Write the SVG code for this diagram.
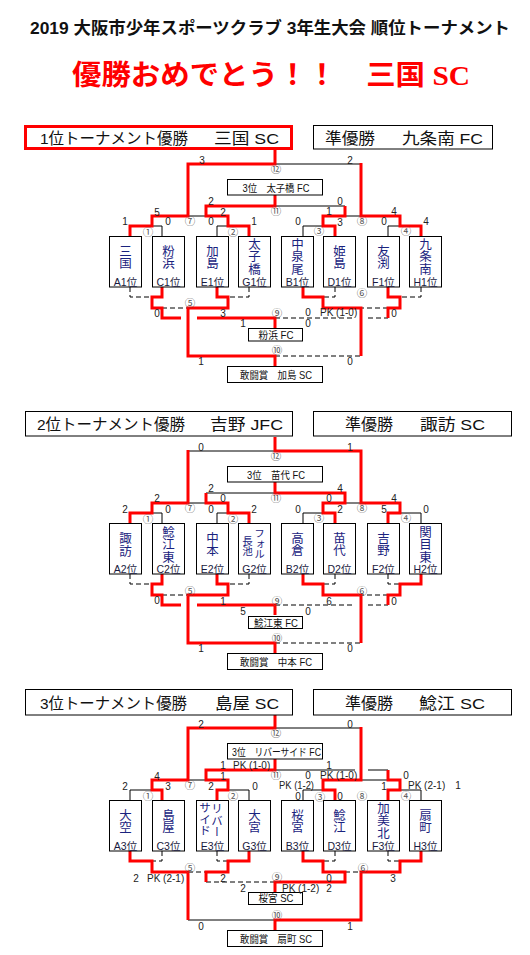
<svg xmlns="http://www.w3.org/2000/svg" width="530" height="955" viewBox="0 0 530 955">
<style>
.r{fill:none;stroke:#ff0000;stroke-width:3;stroke-linejoin:miter}
.k{fill:none;stroke:#000;stroke-width:1}
.d{fill:none;stroke:#000;stroke-width:1;stroke-dasharray:5 3}
.tb{fill:#fff;stroke:#000;stroke-width:1}
.tn{font-family:"Noto Sans CJK JP",sans-serif;font-size:12.5px;fill:#1a237e;writing-mode:vertical-rl}
.tn2{font-family:"Noto Sans CJK JP",sans-serif;font-size:10.5px;fill:#1a237e;writing-mode:vertical-rl}
.tl{font-family:"Liberation Sans","Noto Sans CJK JP",sans-serif;font-size:10.5px;fill:#1a1a40;text-anchor:middle}
.s{font-family:"Liberation Sans",sans-serif;font-size:10px;fill:#222;text-anchor:middle}
.pk{font-family:"Liberation Sans",sans-serif;font-size:10px;fill:#222}
.c{font-family:"Noto Sans CJK JP","DejaVu Sans",sans-serif;font-size:10.5px;fill:#555;text-anchor:middle}
.h{font-family:"Liberation Sans","Noto Sans CJK JP",sans-serif;font-size:15.5px;fill:#111}
.bt{font-family:"Liberation Sans","Noto Sans CJK JP",sans-serif;font-size:10.5px;fill:#111;text-anchor:middle}
</style>
<rect x="0" y="0" width="530" height="955" fill="#fff"/>

<g id="title">
<text x="30" y="34" font-family="'Liberation Sans','Noto Sans CJK JP',sans-serif" font-weight="bold" font-size="16.5" fill="#111" textLength="480" lengthAdjust="spacingAndGlyphs">2019 大阪市少年スポーツクラブ 3年生大会 順位トーナメント</text>
<text x="72" y="85" font-family="'Liberation Serif','Noto Sans CJK JP',serif" font-weight="bold" font-size="28" fill="#ff0000" textLength="398" lengthAdjust="spacingAndGlyphs">優勝おめでとう！！　三国 SC</text>
</g>

<g id="connectors">
<g id="conn-s1">
<path class="k" d="M162,236V226H152 M217,236V226H228 M303,236V226H323 M388,236V226H400 M188,216H206 M345,216H361 M275,164H361 M275,206H345"/>
<path class="d" d="M130,287V297H152 M249,287V297H228 M335,287V297H323 M421,287V297H400 M162,308H188 M388,308H361 M275,318H355 M368,318H388 M275,356H361"/>
<path class="r" d="M130,236V226H152V216H188V164H275V150 M249,236V226H228V216H206V206H275V195 M335,236V226H323V216H345V206 M421,236V226H400V216H361V163 M162,287V297H152V308H162V318H181 M197,318H275V328 M217,287V297H228V308H188V356H275V366 M303,287V297H323V308H361V356 M388,287V297H400V308H388V318"/>
</g>
<g id="conn-s2" transform="translate(0,287)">
<path class="k" d="M162,236V226H152 M217,236V226H228 M303,236V226H323 M421,236V226H400 M188,216H206 M345,216H361 M188,164H275 M206,206H275"/>
<path class="d" d="M130,287V297H152 M249,287V297H228 M335,287V297H323 M388,287V297H400 M162,308H188 M388,308H361 M275,318H355 M368,318H388 M275,356H361"/>
<path class="r" d="M130,236V226H152V216H188V163 M249,236V226H228V216H206V206 M335,236V226H323V216H345V206H275V195 M388,236V226H400V216H361V164H275V150 M162,287V297H152V308H162V318H181 M197,318H275V328 M217,287V297H228V308H188V356H275V366 M303,287V297H323V308H361V356 M421,287V297H400V308H388V318"/>
</g>
<g id="conn-s3" transform="translate(0,564)">
<path class="k" d="M130,236V226H152 M249,236V226H228 M303,236V226H323 M421,236V226H400 M188,216H206 M361,216H388 M275,164H361 M275,206H355 M368,206H388 M188,356H275"/>
<path class="d" d="M162,287V297H152 M217,287V297H228 M335,287V297H323 M388,287V297H400 M188,308H206 M345,308H361 M206,318H275"/>
<path class="r" d="M162,236V226H152V216H188V164H275V150 M217,236V226H228V216H206V206H275V195 M335,236V226H323V216H361V163 M388,236V226H400V216H388V206 M130,287V297H152V308H188V356 M249,287V297H228V308H206V318 M303,287V297H323V308H345V318H275V328 M421,287V297H400V308H361V356H275V366"/>
</g>
</g>

<!-- Section 1 nodes -->
<g id="s1-champion"><rect x="25.5" y="126.5" width="266" height="22" fill="#fff" stroke="#ff0000" stroke-width="3"/><text class="h" y="144"><tspan x="40" textLength="148" lengthAdjust="spacingAndGlyphs">1位トーナメント優勝</tspan><tspan x="214" textLength="65" lengthAdjust="spacingAndGlyphs">三国 SC</tspan></text></g>
<g id="s1-runnerup"><rect class="tb" x="313.5" y="125.5" width="179" height="23.5"/><text class="h" y="144"><tspan x="325" textLength="50" lengthAdjust="spacingAndGlyphs">準優勝</tspan><tspan x="402" textLength="81" lengthAdjust="spacingAndGlyphs">九条南 FC</tspan></text></g>
<g id="s1-3rd"><rect class="tb" x="227.5" y="179.5" width="95" height="15.5"/><text class="bt" x="276" y="191.5" textLength="67" lengthAdjust="spacingAndGlyphs">3位　太子橋 FC</text></g>
<g id="s1-m9"><rect class="tb" x="248.5" y="328.5" width="54" height="12.5"/><text class="bt" x="276" y="338.5" textLength="35" lengthAdjust="spacingAndGlyphs">粉浜 FC</text></g>
<g id="s1-m10"><rect class="tb" x="227.5" y="366.5" width="95" height="16"/><text class="bt" x="276" y="378.5" textLength="72" lengthAdjust="spacingAndGlyphs">敢闘賞　加島 SC</text></g>
<g id="s1-A1"><rect class="tb" x="109.5" y="236.5" width="32" height="50.5"/><text class="tn" x="125.5" y="244.75">三国</text><text class="tl" x="125.5" y="285.5">A1位</text></g>
<g id="s1-C1"><rect class="tb" x="152.5" y="236.5" width="32" height="50.5"/><text class="tn" x="168.5" y="244.75">粉浜</text><text class="tl" x="168.5" y="285.5">C1位</text></g>
<g id="s1-E1"><rect class="tb" x="196.5" y="236.5" width="32" height="50.5"/><text class="tn" x="212.5" y="244.75">加島</text><text class="tl" x="212.5" y="285.5">E1位</text></g>
<g id="s1-G1"><rect class="tb" x="238.5" y="236.5" width="32" height="50.5"/><text class="tn" x="254.5" y="237.75">太子橋</text><text class="tl" x="254.5" y="285.5">G1位</text></g>
<g id="s1-B1"><rect class="tb" x="281.5" y="236.5" width="32" height="50.5"/><text class="tn" x="297.5" y="237.75">中泉尾</text><text class="tl" x="297.5" y="285.5">B1位</text></g>
<g id="s1-D1"><rect class="tb" x="323.5" y="236.5" width="32" height="50.5"/><text class="tn" x="339.5" y="244.75">姫島</text><text class="tl" x="339.5" y="285.5">D1位</text></g>
<g id="s1-F1"><rect class="tb" x="367.5" y="236.5" width="32" height="50.5"/><text class="tn" x="383.5" y="244.75">友渕</text><text class="tl" x="383.5" y="285.5">F1位</text></g>
<g id="s1-H1"><rect class="tb" x="409.5" y="236.5" width="32" height="50.5"/><text class="tn" x="425.5" y="237.75">九条南</text><text class="tl" x="425.5" y="285.5">H1位</text></g>

<!-- Section 2 nodes -->
<g id="s2-winner"><rect class="tb" x="25.5" y="411.5" width="267" height="24.5"/><text class="h" y="430"><tspan x="37" textLength="148" lengthAdjust="spacingAndGlyphs">2位トーナメント優勝</tspan><tspan x="210" textLength="73" lengthAdjust="spacingAndGlyphs">吉野 JFC</tspan></text></g>
<g id="s2-runnerup"><rect class="tb" x="313.5" y="411.5" width="198" height="24.5"/><text class="h" y="430"><tspan x="345" textLength="48" lengthAdjust="spacingAndGlyphs">準優勝</tspan><tspan x="420" textLength="65" lengthAdjust="spacingAndGlyphs">諏訪 SC</tspan></text></g>
<g transform="translate(0,287)">
<g id="s2-3rd"><rect class="tb" x="227.5" y="179.5" width="95" height="15.5"/><text class="bt" x="276" y="191.5" textLength="58" lengthAdjust="spacingAndGlyphs">3位　苗代 FC</text></g>
<g id="s2-m9"><rect class="tb" x="248.5" y="329.5" width="54" height="12"/><text class="bt" x="276" y="339.5" textLength="44" lengthAdjust="spacingAndGlyphs">鯰江東 FC</text></g>
<g id="s2-m10"><rect class="tb" x="227.5" y="366.5" width="95" height="16"/><text class="bt" x="276" y="378.5" textLength="72" lengthAdjust="spacingAndGlyphs">敢闘賞　中本 FC</text></g>
<g id="s2-A2"><rect class="tb" x="109.5" y="236.5" width="32" height="50.5"/><text class="tn" x="125.5" y="245.25">諏訪</text><text class="tl" x="125.5" y="285.5">A2位</text></g>
<g id="s2-C2"><rect class="tb" x="152.5" y="236.5" width="32" height="50.5"/><text class="tn" x="168.5" y="238.5">鯰江東</text><text class="tl" x="168.5" y="285.5">C2位</text></g>
<g id="s2-E2"><rect class="tb" x="196.5" y="236.5" width="32" height="50.5"/><text class="tn" x="212.5" y="244.75">中本</text><text class="tl" x="212.5" y="285.5">E2位</text></g>
<g id="s2-G2"><rect class="tb" x="238.5" y="236.5" width="32" height="50.5"/><text class="tn2" x="259.5" y="241.25">フォル</text><text class="tn2" x="247.5" y="248.75">長池</text><text class="tl" x="254.5" y="285.5">G2位</text></g>
<g id="s2-B2"><rect class="tb" x="281.5" y="236.5" width="32" height="50.5"/><text class="tn" x="297.5" y="244.75">高倉</text><text class="tl" x="297.5" y="285.5">B2位</text></g>
<g id="s2-D2"><rect class="tb" x="323.5" y="236.5" width="32" height="50.5"/><text class="tn" x="339.5" y="244.75">苗代</text><text class="tl" x="339.5" y="285.5">D2位</text></g>
<g id="s2-F2"><rect class="tb" x="367.5" y="236.5" width="32" height="50.5"/><text class="tn" x="383.5" y="244.75">吉野</text><text class="tl" x="383.5" y="285.5">F2位</text></g>
<g id="s2-H2"><rect class="tb" x="409.5" y="236.5" width="32" height="50.5"/><text class="tn" x="425.5" y="238.5">関目東</text><text class="tl" x="425.5" y="285.5">H2位</text></g>
</g>

<!-- Section 3 nodes -->
<g id="s3-winner"><rect class="tb" x="25.5" y="689.5" width="267" height="25.5"/><text class="h" y="709"><tspan x="40" textLength="147" lengthAdjust="spacingAndGlyphs">3位トーナメント優勝</tspan><tspan x="215" textLength="64" lengthAdjust="spacingAndGlyphs">島屋 SC</tspan></text></g>
<g id="s3-runnerup"><rect class="tb" x="313.5" y="689.5" width="198" height="25.5"/><text class="h" y="709"><tspan x="345" textLength="48" lengthAdjust="spacingAndGlyphs">準優勝</tspan><tspan x="419" textLength="66" lengthAdjust="spacingAndGlyphs">鯰江 SC</tspan></text></g>
<g transform="translate(0,564)">
<g id="s3-3rd"><rect class="tb" x="227.5" y="179.5" width="95" height="15.5"/><text class="bt" x="276.5" y="191.5" textLength="89" lengthAdjust="spacingAndGlyphs">3位　リバーサイド FC</text></g>
<g id="s3-m9"><rect class="tb" x="248.5" y="328.5" width="54" height="12"/><text class="bt" x="276" y="338" textLength="35" lengthAdjust="spacingAndGlyphs">桜宮 SC</text></g>
<g id="s3-m10"><rect class="tb" x="227.5" y="366.5" width="95" height="16"/><text class="bt" x="276" y="378.5" textLength="72" lengthAdjust="spacingAndGlyphs">敢闘賞　扇町 SC</text></g>
<g id="s3-A3"><rect class="tb" x="109.5" y="236.5" width="32" height="50.5"/><text class="tn" x="125.5" y="244.75">大空</text><text class="tl" x="125.5" y="285.5">A3位</text></g>
<g id="s3-C3"><rect class="tb" x="152.5" y="236.5" width="32" height="50.5"/><text class="tn" x="168.5" y="244.75">島屋</text><text class="tl" x="168.5" y="285.5">C3位</text></g>
<g id="s3-E3"><rect class="tb" x="196.5" y="236.5" width="32" height="50.5"/><text class="tn2" x="217" y="239" style="font-size:11.5px">リバー</text><text class="tn2" x="205" y="238" style="font-size:11.5px">サイド</text><text class="tl" x="212.5" y="285.5">E3位</text></g>
<g id="s3-G3"><rect class="tb" x="238.5" y="236.5" width="32" height="50.5"/><text class="tn" x="254.5" y="244.75">大宮</text><text class="tl" x="254.5" y="285.5">G3位</text></g>
<g id="s3-B3"><rect class="tb" x="281.5" y="236.5" width="32" height="50.5"/><text class="tn" x="297.5" y="244.75">桜宮</text><text class="tl" x="297.5" y="285.5">B3位</text></g>
<g id="s3-D3"><rect class="tb" x="323.5" y="236.5" width="32" height="50.5"/><text class="tn" x="339.5" y="244.75">鯰江</text><text class="tl" x="339.5" y="285.5">D3位</text></g>
<g id="s3-F3"><rect class="tb" x="367.5" y="236.5" width="32" height="50.5"/><text class="tn" x="383.5" y="237.75">加美北</text><text class="tl" x="383.5" y="285.5">F3位</text></g>
<g id="s3-H3"><rect class="tb" x="409.5" y="236.5" width="32" height="50.5"/><text class="tn" x="425.5" y="244.75">扇町</text><text class="tl" x="425.5" y="285.5">H3位</text></g>
</g>

<!-- match numbers and scores -->
<g id="labels-s1">
<text class="c" x="276" y="173">⑫</text><text class="c" x="276" y="215">⑪</text><text class="c" x="190" y="225">⑦</text><text class="c" x="362" y="225">⑧</text>
<text class="c" x="148" y="236">①</text><text class="c" x="233" y="236">②</text><text class="c" x="319" y="235">③</text><text class="c" x="406" y="235">④</text>
<text class="c" x="190" y="307">⑤</text><text class="c" x="362" y="297">⑥</text><text class="c" x="277" y="317">⑨</text><text class="c" x="277" y="354">⑩</text>
<text class="s" x="202" y="163.5">3</text><text class="s" x="350" y="163.5">2</text>
<text class="s" x="211" y="204.5">2</text><text class="s" x="340" y="204.5">0</text>
<text class="s" x="157" y="215.5">5</text><text class="s" x="223" y="215.5">2</text><text class="s" x="329" y="214.5">1</text><text class="s" x="394" y="214.5">4</text>
<text class="s" x="125" y="224.5">1</text><text class="s" x="168" y="224.5">0</text><text class="s" x="211" y="224.5">0</text><text class="s" x="254" y="224.5">1</text><text class="s" x="298" y="224.5">0</text><text class="s" x="340" y="225.5">3</text><text class="s" x="384" y="224.5">0</text><text class="s" x="426" y="224.5">4</text>
<text class="s" x="157" y="316.5">0</text><text class="s" x="223" y="316.5">3</text><text class="s" x="243" y="326.5">1</text>
<text class="s" x="308" y="315.5">0</text><text class="pk" x="320" y="315.5">PK (1-0)</text><text class="s" x="308" y="326.5">0</text><text class="s" x="394" y="316.5">0</text>
<text class="s" x="201" y="364.5">1</text><text class="s" x="350" y="364.5">0</text>
</g>
<g id="labels-s2" transform="translate(0,287)">
<text class="c" x="276" y="173">⑫</text><text class="c" x="276" y="215">⑪</text><text class="c" x="190" y="225">⑦</text><text class="c" x="362" y="225">⑧</text>
<text class="c" x="148" y="236">①</text><text class="c" x="233" y="236">②</text><text class="c" x="319" y="235">③</text><text class="c" x="406" y="235">④</text>
<text class="c" x="190" y="307.5">⑤</text><text class="c" x="362" y="307.5">⑥</text><text class="c" x="277" y="317.5">⑨</text><text class="c" x="277" y="354.5">⑩</text>
<text class="s" x="201" y="163.5">0</text><text class="s" x="350" y="163.5">1</text>
<text class="s" x="211" y="204.5">2</text><text class="s" x="340" y="204.5">4</text>
<text class="s" x="157" y="214.5">2</text><text class="s" x="223" y="214.5">0</text><text class="s" x="329" y="214.5">0</text><text class="s" x="394" y="214.5">4</text>
<text class="s" x="125" y="225.5">2</text><text class="s" x="168" y="225.5">0</text><text class="s" x="211" y="225.5">0</text><text class="s" x="254" y="225.5">2</text><text class="s" x="298" y="225.5">0</text><text class="s" x="340" y="225.5">2</text><text class="s" x="384" y="225.5">5</text><text class="s" x="426" y="225.5">0</text>
<text class="s" x="157" y="316.5">0</text><text class="s" x="223" y="317.5">1</text><text class="s" x="243" y="327.5">5</text>
<text class="s" x="329" y="317.5">6</text><text class="s" x="308" y="327.5">0</text><text class="s" x="394" y="317.5">0</text>
<text class="s" x="201" y="364.5">1</text><text class="s" x="350" y="364.5">0</text>
</g>
<g id="labels-s3" transform="translate(0,564)">
<text class="c" x="276" y="173">⑫</text><text class="c" x="276" y="215">⑪</text><text class="c" x="190" y="225">⑦</text><text class="c" x="362" y="236">⑧</text>
<text class="c" x="148" y="236">①</text><text class="c" x="233" y="236">②</text><text class="c" x="320" y="236.5">③</text><text class="c" x="406" y="236">④</text>
<text class="c" x="190" y="307.5">⑤</text><text class="c" x="363" y="307.5">⑥</text><text class="c" x="277" y="317">⑨</text><text class="c" x="277" y="354.5">⑩</text>
<text class="s" x="201" y="163.5">2</text><text class="s" x="350" y="163.5">0</text>
<text class="s" x="223" y="204.5">1</text><text class="pk" x="233" y="204.5">PK (1-0)</text><text class="s" x="329" y="204.5">1</text>
<text class="s" x="308" y="214.5">0</text><text class="pk" x="320" y="214.5">PK (1-0)</text><text class="s" x="406" y="214.5">0</text>
<text class="s" x="157" y="215.5">4</text><text class="s" x="223" y="215.5">1</text>
<text class="pk" x="279" y="224.5" textLength="35" lengthAdjust="spacingAndGlyphs">PK (1-2)</text><text class="s" x="384" y="225.5">1</text><text class="pk" x="408" y="224.5">PK (2-1)</text><text class="s" x="458" y="224.5">1</text>
<text class="s" x="125" y="225.5">2</text><text class="s" x="168" y="225.5">3</text><text class="s" x="211" y="225.5">2</text><text class="s" x="255" y="225.5">0</text>
<text class="s" x="298" y="235.5">0</text><text class="s" x="340" y="235.5">0</text>
<text class="s" x="136" y="317.5">2</text><text class="pk" x="147" y="317.5">PK (2-1)</text><text class="s" x="223" y="317.5">2</text>
<text class="s" x="243" y="327.5">2</text><text class="pk" x="282" y="327.5">PK (1-2)</text><text class="s" x="329" y="327.5">2</text>
<text class="s" x="329" y="317.5">0</text><text class="s" x="393" y="317.5">3</text>
<text class="s" x="201" y="365.5">0</text><text class="s" x="350" y="365.5">1</text>
</g>
</svg>
